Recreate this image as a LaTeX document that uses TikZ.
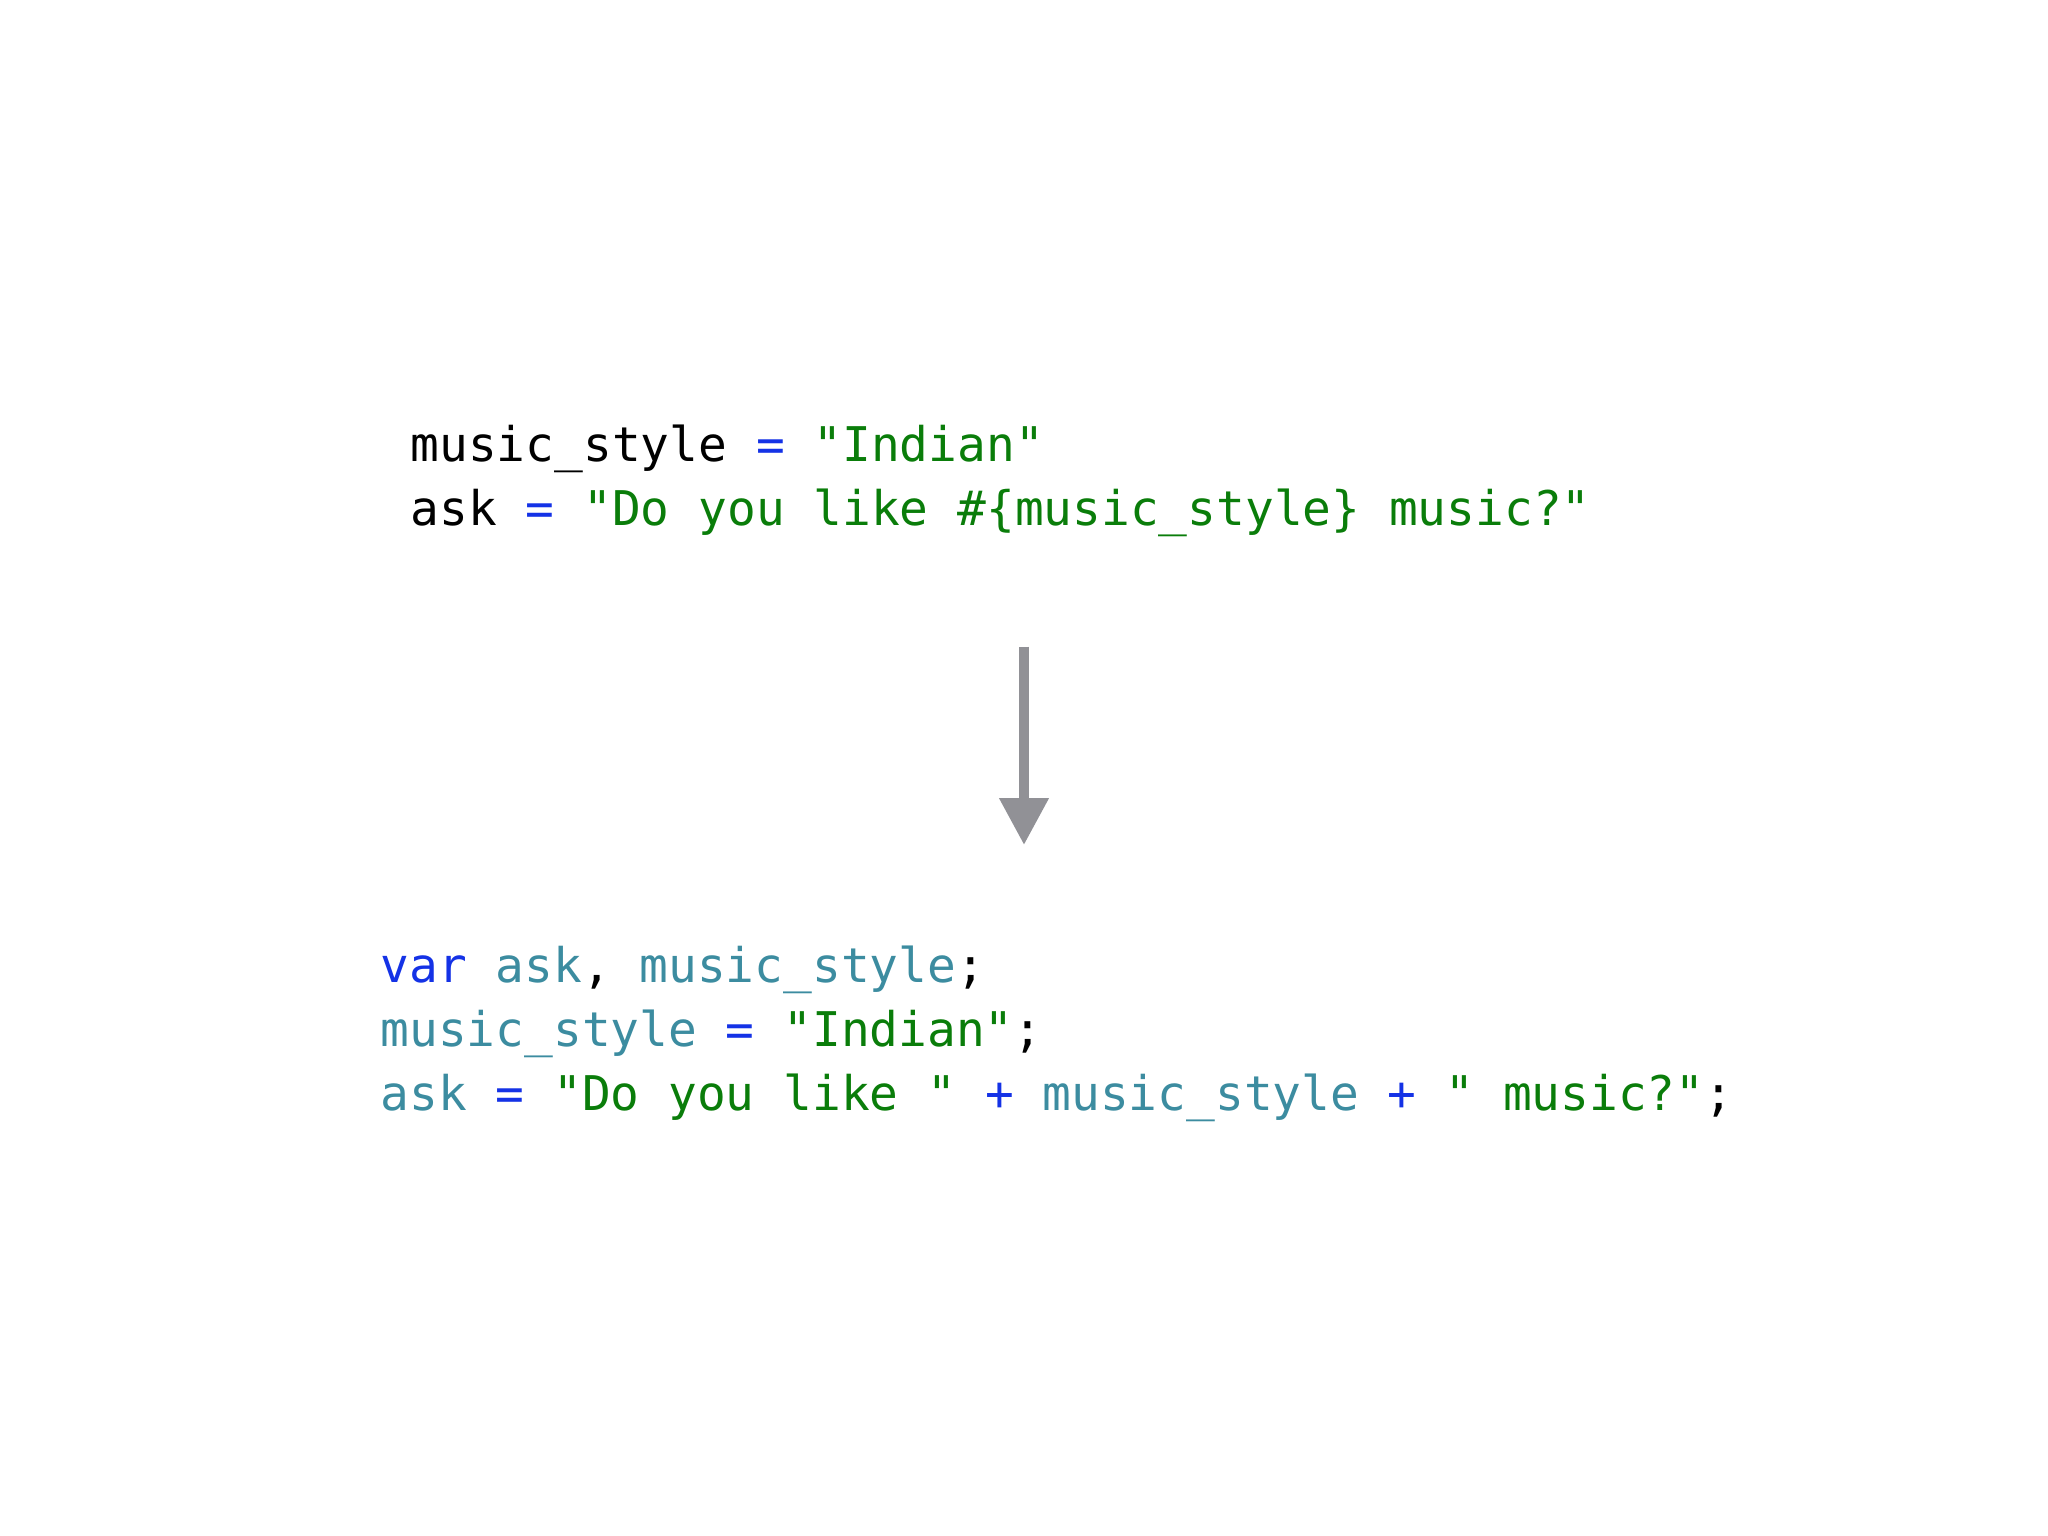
\documentclass[tikz,border=0pt]{standalone}
\usepackage{fontspec}
\setmonofont{DejaVu Sans Mono}
\usetikzlibrary{arrows.meta}
\definecolor{kw}{RGB}{20,50,230}
\definecolor{str}{RGB}{10,125,10}
\definecolor{var}{RGB}{60,140,160}
\definecolor{arr}{RGB}{145,145,150}
\tikzset{code/.style={anchor=base west,inner sep=0pt,font=\ttfamily\fontsize{18.3pt}{22pt}\selectfont}}
\begin{document}
\begin{tikzpicture}[x=0.5pt,y=-0.5pt]
\useasboundingbox (0,0) rectangle (1568,1176);
\node[code] (l1) at (314,353) {music\_style \textcolor{kw}{=} \textcolor{str}{"Indian"}};
\node[code] (l2) at (314,402) {ask \textcolor{kw}{=} \textcolor{str}{"Do you like \#\{music\_style\} music?"}};
\coordinate (a1) at (784,495);
\coordinate (a2) at (784,647);
\draw[arr,line width=4pt,-{Triangle[width=18pt,length=18pt]}] (a1) -- (a2);
\node[code] (m1) at (291,752) {\textcolor{kw}{var} \textcolor{var}{ask}, \textcolor{var}{music\_style};};
\node[code] (m2) at (291,801) {\textcolor{var}{music\_style} \textcolor{kw}{=} \textcolor{str}{"Indian"};};
\node[code] (m3) at (291,850) {\textcolor{var}{ask} \textcolor{kw}{=} \textcolor{str}{"Do you like "} \textcolor{kw}{+} \textcolor{var}{music\_style} \textcolor{kw}{+} \textcolor{str}{" music?"};};
\end{tikzpicture}
\end{document}
